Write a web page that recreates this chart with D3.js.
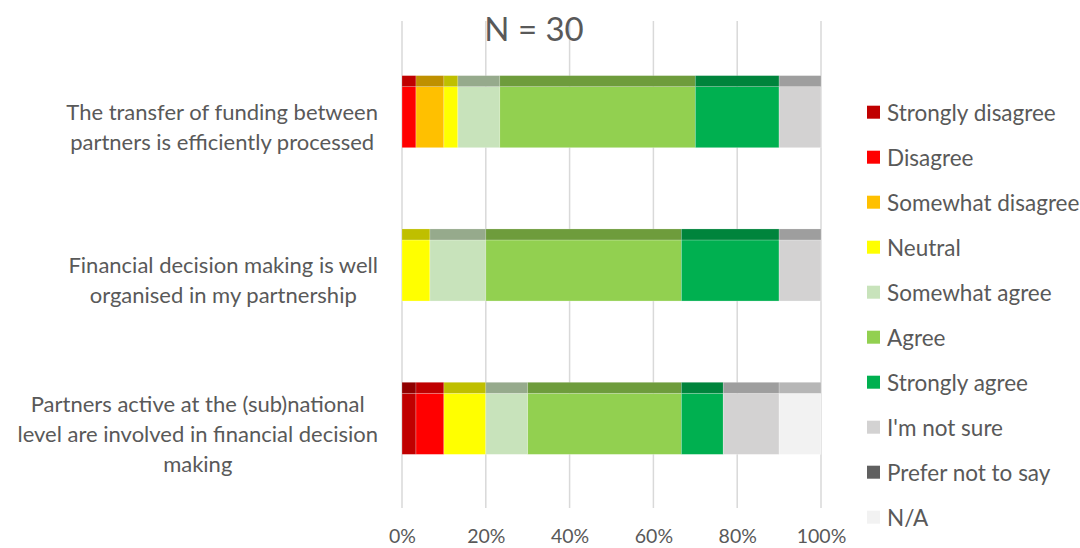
<!DOCTYPE html>
<html>
<head>
<meta charset="utf-8">
<title>Financial partnership survey</title>
<script src="https://d3js.org/d3.v7.min.js"></script>
<style>
body { margin: 0; background: #fff; }
svg text { font-family: Lato, "Open Sans", sans-serif; fill: #595959; }
</style>
</head>
<body>
<div id="chart"></div>
<script>
// survey statements (one bar each)
var statements = [
  ["The transfer of funding between", "partners is efficiently processed"],
  ["Financial decision making is well", "organised in my partnership"],
  ["Partners active at the (sub)national", "level are involved in financial decision", "making"]
];

var responseN = 30;

// answer options, in stack order
var answers = ["Strongly disagree", "Disagree", "Somewhat disagree", "Neutral",
  "Somewhat agree", "Agree", "Strongly agree", "I'm not sure", "Prefer not to say", "N/A"];
var answerColors = ["#C00000", "#FF0000", "#FFC000", "#FFFF00", "#C8E3BB",
  "#92D050", "#00B050", "#D3D2D2", "#606060", "#F2F2F2"];

// number of respondents per answer, one value per statement
var stronglyDisagree = [0, 0, 1];
var disagree         = [1, 0, 2];
var somewhatDisagree = [2, 0, 0];
var neutral          = [1, 2, 3];
var somewhatAgree    = [3, 4, 3];
var agree            = [14, 14, 11];
var stronglyAgree    = [6, 7, 3];
var notSure          = [3, 3, 4];
var preferNot        = [0, 0, 0];
var notApplicable    = [0, 0, 3];

var xTicks = [0, 0.2, 0.4, 0.6, 0.8, 1];

var seriesValues = [stronglyDisagree, disagree, somewhatDisagree, neutral, somewhatAgree,
  agree, stronglyAgree, notSure, preferNot, notApplicable];

var rows = statements.map(function(s, i) {
  var r = { key: i };
  answers.forEach(function(a, j) { r[a] = seriesValues[j][i] / responseN; });
  return r;
});

var width = 1080, height = 548;

var svg = d3.select("#chart").append("svg")
  .attr("width", width)
  .attr("height", height);

var x = d3.scaleLinear().domain([0, 1]).range([402, 821]);
var y = d3.scaleBand().domain(d3.range(statements.length))
  .range([35, 495]).paddingInner(0.53).paddingOuter(0.265);
var color = d3.scaleOrdinal().domain(answers).range(answerColors);

// darker shade for the top face of the 3D bar
function topShade(c) {
  var k = d3.rgb(c);
  return d3.rgb(k.r * 0.75, k.g * 0.75, k.b * 0.75);
}

// gridlines
svg.append("g")
  .selectAll("line")
  .data(xTicks)
  .enter().append("line")
    .attr("x1", function(d) { return x(d); })
    .attr("x2", function(d) { return x(d); })
    .attr("y1", 21)
    .attr("y2", 508)
    .style("stroke", "#D9D9D9")
    .style("stroke-width", 1.5);

// x axis labels
var xAxis = d3.axisBottom(x).tickValues(xTicks).tickFormat(d3.format(".0%")).tickSize(0).tickPadding(0);
var gx = svg.append("g")
  .attr("transform", "translate(0,529)")
  .call(xAxis);
gx.select(".domain").remove();
gx.selectAll("text")
  .attr("dy", "0.71em")
  .style("font-size", "19.5px")
  .style("font-family", "Lato, sans-serif")
  .style("fill", "#595959");

var stacked = d3.stack().keys(answers)(rows);
var topH = 11;

var layers = svg.append("g")
  .selectAll("g")
  .data(stacked)
  .enter().append("g")
    .attr("fill", function(d) { return color(d.key); });

// front faces
layers.selectAll("rect.front")
  .data(function(d) { return d.filter(function(p) { return p[1] > p[0]; }); })
  .enter().append("rect")
    .attr("class", "front")
    .attr("x", function(d) { return x(d[0]); })
    .attr("width", function(d) { return x(d[1]) - x(d[0]); })
    .attr("y", function(d) { return y(d.data.key) + topH; })
    .attr("height", y.bandwidth() - topH)
    .style("stroke", "rgba(255,255,255,0.35)")
    .style("stroke-width", 0.7);

// top faces
layers.each(function(s) {
  var c = topShade(color(s.key));
  d3.select(this).selectAll("rect.top")
    .data(s.filter(function(p) { return p[1] > p[0]; }))
    .enter().append("rect")
      .attr("class", "top")
      .attr("x", function(d) { return x(d[0]); })
      .attr("width", function(d) { return x(d[1]) - x(d[0]); })
      .attr("y", function(d) { return y(d.data.key); })
      .attr("height", topH)
      .attr("fill", c)
      .style("stroke", "rgba(255,255,255,0.25)")
      .style("stroke-width", 0.7);
});

// category labels (lines centred inside a right-aligned block)
var lineH = 30;
statements.forEach(function(lines, i) {
  var cy = y(i) + topH + (y.bandwidth() - topH) / 2 + 10;
  var g = svg.append("g");
  var texts = g.selectAll("text")
    .data(lines)
    .enter().append("text")
      .attr("y", function(d, j) { return cy + (j - (lines.length - 1) / 2) * lineH; })
      .attr("dy", "0.35em")
      .attr("text-anchor", "middle")
      .style("font-size", "22px")
      .text(function(d) { return d; });
  var maxW = 0;
  texts.each(function() { maxW = Math.max(maxW, this.getComputedTextLength()); });
  texts.attr("x", 378 - maxW / 2);
});

// title
svg.append("text")
  .attr("x", 534)
  .attr("y", 41)
  .attr("text-anchor", "middle")
  .style("font-size", "33px")
  .text("N = " + responseN);

// legend
var legend = svg.append("g")
  .selectAll("g")
  .data(answers)
  .enter().append("g")
    .attr("transform", function(d, i) { return "translate(867," + (112.7 + i * 45) + ")"; });

legend.append("rect")
  .attr("x", 0)
  .attr("y", -7)
  .attr("width", 13)
  .attr("height", 13)
  .attr("fill", function(d) { return color(d); });

legend.append("text")
  .attr("x", 20)
  .attr("y", 0)
  .attr("dy", "0.35em")
  .style("font-size", "22.5px")
  .text(function(d) { return d; });
</script>
</body>
</html>
